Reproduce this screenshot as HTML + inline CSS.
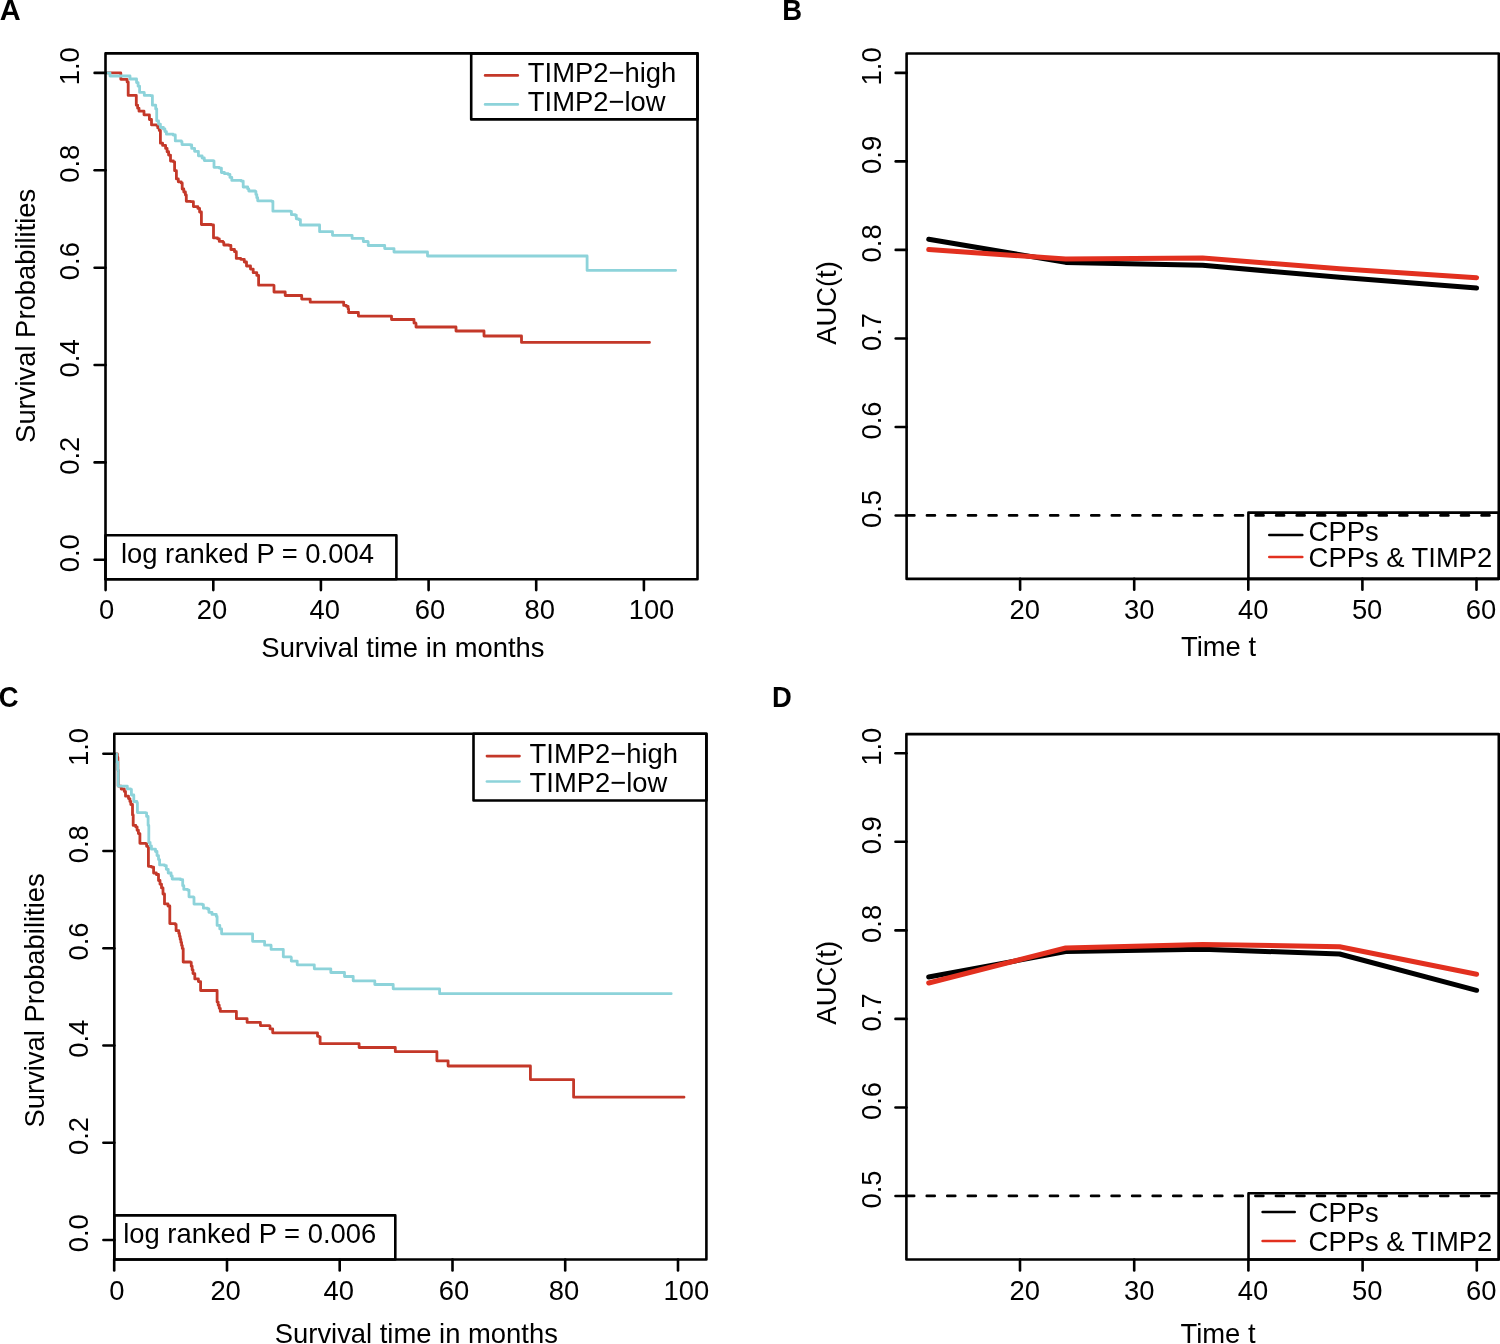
<!DOCTYPE html>
<html><head><meta charset="utf-8"><title>Figure</title>
<style>
html,body{margin:0;padding:0;background:#fff;}
body{width:1500px;height:1344px;overflow:hidden;}
svg{display:block;will-change:transform;}
text{font-family:"Liberation Sans",sans-serif;}
</style></head><body>
<svg width="1500" height="1344" viewBox="0 0 1500 1344" font-family="Liberation Sans, sans-serif" font-size="27.4" fill="#000">
<rect x="0" y="0" width="1500" height="1344" fill="#fff"/>
<path d="M105.6 72.9L120.8 72.9L120.8 79.3L127.1 79.3L127.1 82L128.2 82L128.2 95.4L135.7 95.4L136.3 95.4L136.3 105.2L137.65 105.2L137.65 108.2L139 108.2L139 111.2L144 111.2L144 114.8L148.5 114.8L149.4 114.8L149.4 119.5L151.5 119.5L151.5 124.9L156.3 124.9L156.3 125.3L157.8 125.3L157.8 127.9L159.3 127.9L159.3 130.5L160.4 130.5L160.4 143.2L162.6 143.2L162.6 145.4L165.6 145.4L165.6 148.4L167.1 148.4L167.1 151.75L168.6 151.75L168.6 155.1L170.5 155.1L170.5 161L173.4 161L173.4 161.8L174.6 161.8L174.6 170.7L176.4 170.7L176.4 178.9L178.3 178.9L178.3 181.8L181.2 181.8L181.2 183L182.2 183L182.2 189L183.8 189L183.8 192L185.4 192L185.4 195L186.3 195L186.3 201.3L190.7 201.3L190.7 201.7L193.4 201.7L193.4 206.6L197.9 206.6L197.9 208.4L199.6 208.4L199.6 212L201.4 212L201.4 224.5L211.3 224.5L211.3 224.9L213.5 224.9L213.5 237.9L217.5 237.9L217.5 238.8L219.3 238.8L219.3 241.4L222.9 241.4L222.9 242.3L223.8 242.3L223.8 245L228.7 245L228.7 245.4L230.9 245.4L230.9 249.5L234.5 249.5L234.5 251.7L236.3 251.7L236.3 258.4L240.7 258.4L240.7 259.3L244.3 259.3L244.3 262L246.5 262L246.5 266L250.5 266L250.5 269.1L253.2 269.1L253.2 272.7L256.8 272.7L256.8 275.4L258.6 275.4L258.6 285.2L273.3 285.2L273.3 285.5L274 285.5L274 292L284.7 292L285.2 292L285.2 295.5L301.3 295.5L301.7 295.5L301.7 299.1L309.7 299.1L310.2 299.1L310.2 302.2L342.8 302.2L343.7 302.2L343.7 305.4L346.3 305.4L346.3 306.3L348.1 306.3L348.1 309L348.6 309L348.6 312.5L357.9 312.5L358.4 312.5L358.4 316.1L391 316.1L391.5 316.1L391.5 319.5L413 319.5L414 319.5L414 323L415.5 323L415.5 323.5L416 323.5L416 327L455.5 327L456 327L456 331L483.5 331L484 331L484 336L521 336L521.5 336L521.5 342.4L649.5 342.4" fill="none" stroke="#c43829" stroke-width="2.8" stroke-linejoin="round" stroke-linecap="round"/>
<path d="M105.6 72.9L109.5 72.9L110 72.9L110 76L129.8 76L130 76L130 79L135 79L136.55 79L136.55 82.6L138.1 82.6L138.1 86.2L139.6 86.2L139.6 92.4L144 92.4L144 92.7L144.3 92.7L144.3 95.4L150.6 95.4L150.6 95.7L152.4 95.7L152.4 105.2L155.7 105.2L155.7 109L156.7 109L156.7 120.8L158.55 120.8L158.55 124.15L160.4 124.15L160.4 127.5L163.4 127.5L163.4 129L164.9 129L164.9 131.6L166.4 131.6L166.4 134.2L173.1 134.2L173.1 135L175.3 135L175.3 140.9L181.3 140.9L181.3 141.7L182 141.7L182 144.6L190.2 144.6L190.2 145L191.7 145L191.7 148.4L194.6 148.4L194.6 151.3L198.4 151.3L198.4 155.8L202.1 155.8L202.1 158L204.3 158L204.3 160.6L213.2 160.6L213.2 161L214 161L214 167.3L219.2 167.3L219.2 168.1L221.4 168.1L221.4 172.5L224.4 172.5L224.4 173.7L228.1 173.7L228.1 174.4L229.95 174.4L229.95 177.4L231.8 177.4L231.8 180.4L241.2 180.4L241.2 181.1L243.2 181.1L243.2 187L247.7 187L247.7 188.9L248.8 188.9L248.8 191L255 191L255 191.4L255.9 191.4L255.9 194.53L256.8 194.53L256.8 197.67L257.7 197.67L257.7 200.8L271.5 200.8L271.5 201.3L272.9 201.3L272.9 211.2L290.5 211.2L290.5 211.5L291.4 211.5L291.4 214.7L295 214.7L295 215.2L296.3 215.2L296.3 218.8L298.6 218.8L298.6 219.6L300.4 219.6L300.4 225L318.7 225L319.6 225L319.6 231.7L332.1 231.7L332.5 231.7L332.5 235.3L351.7 235.3L352.1 235.3L352.1 238.4L362.4 238.4L363.3 238.4L363.3 241.5L367.8 241.5L367.8 242L368.2 242L368.2 245.5L384.3 245.5L384.7 245.5L384.7 248.6L393.5 248.6L394 248.6L394 252L427 252L427.5 252L427.5 256L587.1 256L587.1 270.4L675.6 270.4" fill="none" stroke="#8dd3da" stroke-width="2.8" stroke-linejoin="round" stroke-linecap="round"/>
<rect x="105.5" y="53.4" width="592" height="525.8" fill="none" stroke="#000" stroke-width="2.6" stroke-linejoin="round"/>
<line x1="94.6" y1="559.8" x2="105.5" y2="559.8" stroke="#000" stroke-width="2.6" stroke-linecap="round"/>
<text transform="translate(79.4 553.2) rotate(-90) scale(1 1.03)" text-anchor="middle">0.0</text>
<line x1="94.6" y1="462.4" x2="105.5" y2="462.4" stroke="#000" stroke-width="2.6" stroke-linecap="round"/>
<text transform="translate(79.4 455.8) rotate(-90) scale(1 1.03)" text-anchor="middle">0.2</text>
<line x1="94.6" y1="365" x2="105.5" y2="365" stroke="#000" stroke-width="2.6" stroke-linecap="round"/>
<text transform="translate(79.4 358.4) rotate(-90) scale(1 1.03)" text-anchor="middle">0.4</text>
<line x1="94.6" y1="267.7" x2="105.5" y2="267.7" stroke="#000" stroke-width="2.6" stroke-linecap="round"/>
<text transform="translate(79.4 261.1) rotate(-90) scale(1 1.03)" text-anchor="middle">0.6</text>
<line x1="94.6" y1="170.3" x2="105.5" y2="170.3" stroke="#000" stroke-width="2.6" stroke-linecap="round"/>
<text transform="translate(79.4 163.7) rotate(-90) scale(1 1.03)" text-anchor="middle">0.8</text>
<line x1="94.6" y1="72.9" x2="105.5" y2="72.9" stroke="#000" stroke-width="2.6" stroke-linecap="round"/>
<text transform="translate(79.4 66.3) rotate(-90) scale(1 1.03)" text-anchor="middle">1.0</text>
<line x1="105.6" y1="579.2" x2="105.6" y2="590.1" stroke="#000" stroke-width="2.6" stroke-linecap="round"/>
<text transform="translate(106.65 619.2) scale(1 1.03)" text-anchor="middle">0</text>
<line x1="213.3" y1="579.2" x2="213.3" y2="590.1" stroke="#000" stroke-width="2.6" stroke-linecap="round"/>
<text transform="translate(212.05 619.2) scale(1 1.03)" text-anchor="middle">20</text>
<line x1="320.9" y1="579.2" x2="320.9" y2="590.1" stroke="#000" stroke-width="2.6" stroke-linecap="round"/>
<text transform="translate(324.8 619.2) scale(1 1.03)" text-anchor="middle">40</text>
<line x1="428.6" y1="579.2" x2="428.6" y2="590.1" stroke="#000" stroke-width="2.6" stroke-linecap="round"/>
<text transform="translate(429.95 619.2) scale(1 1.03)" text-anchor="middle">60</text>
<line x1="536.2" y1="579.2" x2="536.2" y2="590.1" stroke="#000" stroke-width="2.6" stroke-linecap="round"/>
<text transform="translate(539.75 619.2) scale(1 1.03)" text-anchor="middle">80</text>
<line x1="643.9" y1="579.2" x2="643.9" y2="590.1" stroke="#000" stroke-width="2.6" stroke-linecap="round"/>
<text transform="translate(651.5 619.2) scale(1 1.03)" text-anchor="middle">100</text>
<text transform="translate(402.9 656.9) scale(1 1.03)" text-anchor="middle">Survival time in months</text>
<text transform="translate(35.3 315.8) rotate(-90) scale(1 1.03)" text-anchor="middle">Survival Probabilities</text>
<rect x="471.2" y="53.4" width="226.3" height="66" fill="none" stroke="#000" stroke-width="2.6" stroke-linejoin="round"/>
<line x1="485.1" y1="75.4" x2="517.8" y2="75.4" stroke="#c43829" stroke-width="2.6" stroke-linecap="round"/>
<line x1="485.1" y1="104.4" x2="517.8" y2="104.4" stroke="#8dd3da" stroke-width="2.6" stroke-linecap="round"/>
<text transform="translate(527.8 81.9) scale(1 1.03)" text-anchor="start">TIMP2−high</text>
<text transform="translate(527.8 110.9) scale(1 1.03)" text-anchor="start">TIMP2−low</text>
<rect x="105.5" y="535.3" width="290.9" height="43.9" fill="none" stroke="#000" stroke-width="2.6" stroke-linejoin="round"/>
<text transform="translate(120.9 563.2) scale(1 1.03)" text-anchor="start">log ranked P = 0.004</text>
<text transform="translate(-0.3 19.7) scale(1 1)" text-anchor="start" font-weight="bold" font-size="29">A</text>
<path d="M114.3 753.8L116.8 753.8L117.3 753.8L117.3 757.5L117.9 757.5L117.9 770L118.2 770L118.2 786.1L121.2 786.1L121.2 789L121.8 789L124.3 789L124.3 791.4L125.5 791.4L125.5 796.2L128.5 796.2L128.5 798.6L129.9 798.6L129.9 801.5L130.8 801.5L130.8 804.5L132.5 804.5L132.5 815L133.2 815L133.2 825.4L135.8 825.4L135.8 826.9L137.1 826.9L137.1 830.25L138.4 830.25L138.4 833.6L139.9 833.6L139.9 843.3L145.5 843.3L145.5 843.6L146.6 843.6L146.6 846.3L148.4 846.3L148.4 866.3L151.4 866.3L151.4 867.1L153.6 867.1L153.6 873L156.3 873L156.3 874.5L158.5 874.5L158.5 880.5L160 880.5L160 884.2L161.5 884.2L161.5 887.9L163 887.9L163 894L164.5 894L164.5 903.9L168 903.9L168 906L169.8 906L169.8 923.6L175.2 923.6L175.2 924.5L176.1 924.5L176.1 930.7L178.8 930.7L178.8 933.4L179.5 933.4L179.5 936.44L180.2 936.44L180.2 939.48L180.9 939.48L180.9 942.52L181.6 942.52L181.6 945.56L182.3 945.56L182.3 948.6L183.2 948.6L183.2 962L190.4 962L190.4 962.4L191.27 962.4L191.27 966.13L192.13 966.13L192.13 969.87L193 969.87L193 973.6L194.8 973.6L194.8 978.9L198.4 978.9L198.4 981.6L200.6 981.6L200.6 984.3L200.6 990.5L214.9 990.5L217.1 990.5L217.1 1002.1L218.17 1002.1L218.17 1005.2L219.23 1005.2L219.23 1008.3L220.3 1008.3L220.3 1011.4L236.4 1011.4L236.4 1018.7L247.1 1018.7L247.1 1022.4L260.4 1022.4L260.4 1025.6L269.5 1025.6L269.5 1026.1L270 1026.1L270 1028.8L272.7 1028.8L272.7 1029.3L272.7 1032.8L316.9 1032.8L317.5 1032.8L317.5 1036.3L319.1 1036.3L319.1 1036.8L320.1 1036.8L320.1 1043.7L359.1 1043.7L359.1 1047.5L395.3 1047.5L395.3 1051.7L436.9 1051.7L436.9 1060.8L448.1 1060.8L448.1 1066L530.4 1066L530.4 1079.6L573.6 1079.6L573.6 1097.2L684 1097.2" fill="none" stroke="#c43829" stroke-width="2.8" stroke-linejoin="round" stroke-linecap="round"/>
<path d="M114.3 753.8L115.2 753.8L116.6 753.8L116.6 762L117.8 762L117.8 770L118.2 770L118.2 786.1L126.1 786.1L127.3 786.1L127.3 788.8L130.5 788.8L130.5 789.3L131.4 789.3L131.4 795L133.8 795L133.8 801.5L136.8 801.5L136.8 802.7L137.4 802.7L137.4 812.6L145.7 812.6L145.7 812.9L146.6 812.9L146.6 816.4L148.1 816.4L148.1 825.4L148.8 825.4L148.8 842.5L150.1 842.5L150.1 845.85L151.4 845.85L151.4 849.2L155.5 849.2L155.5 851.5L157 851.5L157 855.55L158.5 855.55L158.5 859.6L159.6 859.6L159.6 864.9L164.4 864.9L164.4 865.6L166.3 865.6L166.3 869.3L168.2 869.3L168.2 873L171.1 873L171.1 876L172.2 876L172.2 879L180.4 879L180.4 879.7L182.7 879.7L182.7 885.7L183.8 885.7L183.8 889.4L187.5 889.4L187.5 890.1L189 890.1L189 896.8L193.3 896.8L193.3 897.5L194 897.5L194 904.1L202.2 904.1L202.2 904.7L203.4 904.7L203.4 908.2L207.5 908.2L207.5 909L208.9 909L208.9 912.3L212 912.3L212 914.4L216.3 914.4L216.3 916.4L217.1 916.4L217.1 925.4L219.8 925.4L219.8 928.9L221.6 928.9L221.6 933.8L252.6 933.8L252.6 941.3L264 941.3L264.6 941.3L264.6 945.2L271 945.2L271 945.4L271.1 945.4L271.1 949.4L283.3 949.4L283.3 956.8L290.8 956.8L290.8 957.3L291.3 957.3L291.3 961.1L297.2 961.1L297.2 961.6L297.2 964.8L314.3 964.8L314.3 968.8L330.8 968.8L330.8 969.1L330.8 972.5L344.5 972.5L344.5 972.8L344.5 976.5L353.2 976.5L353.2 977.1L353.2 980.8L374.8 980.8L374.8 984.5L393.2 984.5L393.2 988.8L439.6 988.8L439.6 993.7L671.2 993.7" fill="none" stroke="#8dd3da" stroke-width="2.8" stroke-linejoin="round" stroke-linecap="round"/>
<rect x="114.3" y="733.7" width="592.1" height="525.8" fill="none" stroke="#000" stroke-width="2.6" stroke-linejoin="round"/>
<line x1="103.4" y1="1240" x2="114.3" y2="1240" stroke="#000" stroke-width="2.6" stroke-linecap="round"/>
<text transform="translate(88.1 1233.2) rotate(-90) scale(1 1.03)" text-anchor="middle">0.0</text>
<line x1="103.4" y1="1142.8" x2="114.3" y2="1142.8" stroke="#000" stroke-width="2.6" stroke-linecap="round"/>
<text transform="translate(88.1 1136) rotate(-90) scale(1 1.03)" text-anchor="middle">0.2</text>
<line x1="103.4" y1="1045.5" x2="114.3" y2="1045.5" stroke="#000" stroke-width="2.6" stroke-linecap="round"/>
<text transform="translate(88.1 1038.7) rotate(-90) scale(1 1.03)" text-anchor="middle">0.4</text>
<line x1="103.4" y1="948.3" x2="114.3" y2="948.3" stroke="#000" stroke-width="2.6" stroke-linecap="round"/>
<text transform="translate(88.1 941.5) rotate(-90) scale(1 1.03)" text-anchor="middle">0.6</text>
<line x1="103.4" y1="851" x2="114.3" y2="851" stroke="#000" stroke-width="2.6" stroke-linecap="round"/>
<text transform="translate(88.1 844.2) rotate(-90) scale(1 1.03)" text-anchor="middle">0.8</text>
<line x1="103.4" y1="753.8" x2="114.3" y2="753.8" stroke="#000" stroke-width="2.6" stroke-linecap="round"/>
<text transform="translate(88.1 747) rotate(-90) scale(1 1.03)" text-anchor="middle">1.0</text>
<line x1="114.2" y1="1259.5" x2="114.2" y2="1270.4" stroke="#000" stroke-width="2.6" stroke-linecap="round"/>
<text transform="translate(116.9 1299.5) scale(1 1.03)" text-anchor="middle">0</text>
<line x1="227" y1="1259.5" x2="227" y2="1270.4" stroke="#000" stroke-width="2.6" stroke-linecap="round"/>
<text transform="translate(225.6 1299.5) scale(1 1.03)" text-anchor="middle">20</text>
<line x1="339.7" y1="1259.5" x2="339.7" y2="1270.4" stroke="#000" stroke-width="2.6" stroke-linecap="round"/>
<text transform="translate(338.7 1299.5) scale(1 1.03)" text-anchor="middle">40</text>
<line x1="452.5" y1="1259.5" x2="452.5" y2="1270.4" stroke="#000" stroke-width="2.6" stroke-linecap="round"/>
<text transform="translate(454 1299.5) scale(1 1.03)" text-anchor="middle">60</text>
<line x1="565.2" y1="1259.5" x2="565.2" y2="1270.4" stroke="#000" stroke-width="2.6" stroke-linecap="round"/>
<text transform="translate(564 1299.5) scale(1 1.03)" text-anchor="middle">80</text>
<line x1="678" y1="1259.5" x2="678" y2="1270.4" stroke="#000" stroke-width="2.6" stroke-linecap="round"/>
<text transform="translate(686.3 1299.5) scale(1 1.03)" text-anchor="middle">100</text>
<text transform="translate(416.3 1343) scale(1 1.03)" text-anchor="middle">Survival time in months</text>
<text transform="translate(43.75 1000.4) rotate(-90) scale(1 1.03)" text-anchor="middle">Survival Probabilities</text>
<rect x="473.5" y="733.7" width="232.9" height="66.8" fill="none" stroke="#000" stroke-width="2.6" stroke-linejoin="round"/>
<line x1="486.9" y1="756.1" x2="519.5" y2="756.1" stroke="#c43829" stroke-width="2.6" stroke-linecap="round"/>
<line x1="486.9" y1="781.5" x2="519.5" y2="781.5" stroke="#8dd3da" stroke-width="2.6" stroke-linecap="round"/>
<text transform="translate(529.6 762.6) scale(1 1.03)" text-anchor="start">TIMP2−high</text>
<text transform="translate(529.6 791.6) scale(1 1.03)" text-anchor="start">TIMP2−low</text>
<rect x="114.3" y="1215.4" width="281" height="44.1" fill="none" stroke="#000" stroke-width="2.6" stroke-linejoin="round"/>
<text transform="translate(123.2 1243.4) scale(1 1.03)" text-anchor="start">log ranked P = 0.006</text>
<text transform="translate(-1.3 706.7) scale(1 1.05)" text-anchor="start" font-weight="bold">C</text>
<line x1="906.4" y1="515.4" x2="1498.8" y2="515.4" stroke="#000" stroke-width="2.6" stroke-dasharray="8 12.54" stroke-linecap="round"/>
<rect x="906.6" y="53.45" width="592.2" height="525.45" fill="none" stroke="#000" stroke-width="2.6" stroke-linejoin="round"/>
<path d="M928.7 239.3L1065.7 262.4L1202.6 265.3L1339.6 277.3L1476.6 288.1" fill="none" stroke="#000" stroke-width="5" stroke-linejoin="round" stroke-linecap="round"/>
<path d="M928.7 249.6L1065.7 259L1202.6 258L1339.6 268.7L1476.6 277.7" fill="none" stroke="#e2301f" stroke-width="5" stroke-linejoin="round" stroke-linecap="round"/>
<line x1="895.7" y1="72.9" x2="906.6" y2="72.9" stroke="#000" stroke-width="2.6" stroke-linecap="round"/>
<text transform="translate(880.8 66.4) rotate(-90) scale(1 1.03)" text-anchor="middle">1.0</text>
<line x1="895.7" y1="161.4" x2="906.6" y2="161.4" stroke="#000" stroke-width="2.6" stroke-linecap="round"/>
<text transform="translate(880.8 154.9) rotate(-90) scale(1 1.03)" text-anchor="middle">0.9</text>
<line x1="895.7" y1="249.9" x2="906.6" y2="249.9" stroke="#000" stroke-width="2.6" stroke-linecap="round"/>
<text transform="translate(880.8 243.4) rotate(-90) scale(1 1.03)" text-anchor="middle">0.8</text>
<line x1="895.7" y1="338.5" x2="906.6" y2="338.5" stroke="#000" stroke-width="2.6" stroke-linecap="round"/>
<text transform="translate(880.8 332) rotate(-90) scale(1 1.03)" text-anchor="middle">0.7</text>
<line x1="895.7" y1="427" x2="906.6" y2="427" stroke="#000" stroke-width="2.6" stroke-linecap="round"/>
<text transform="translate(880.8 420.5) rotate(-90) scale(1 1.03)" text-anchor="middle">0.6</text>
<line x1="895.7" y1="515.5" x2="906.6" y2="515.5" stroke="#000" stroke-width="2.6" stroke-linecap="round"/>
<text transform="translate(880.8 509) rotate(-90) scale(1 1.03)" text-anchor="middle">0.5</text>
<line x1="1020.1" y1="578.9" x2="1020.1" y2="589.8" stroke="#000" stroke-width="2.6" stroke-linecap="round"/>
<text transform="translate(1024.8 619.2) scale(1 1.03)" text-anchor="middle">20</text>
<line x1="1134.2" y1="578.9" x2="1134.2" y2="589.8" stroke="#000" stroke-width="2.6" stroke-linecap="round"/>
<text transform="translate(1139.3 619.2) scale(1 1.03)" text-anchor="middle">30</text>
<line x1="1248.3" y1="578.9" x2="1248.3" y2="589.8" stroke="#000" stroke-width="2.6" stroke-linecap="round"/>
<text transform="translate(1253.3 619.2) scale(1 1.03)" text-anchor="middle">40</text>
<line x1="1362.4" y1="578.9" x2="1362.4" y2="589.8" stroke="#000" stroke-width="2.6" stroke-linecap="round"/>
<text transform="translate(1367.1 619.2) scale(1 1.03)" text-anchor="middle">50</text>
<line x1="1476.5" y1="578.9" x2="1476.5" y2="589.8" stroke="#000" stroke-width="2.6" stroke-linecap="round"/>
<text transform="translate(1480.9 619.2) scale(1 1.03)" text-anchor="middle">60</text>
<text transform="translate(1218.5 656.3) scale(1 1.03)" text-anchor="middle">Time t</text>
<text transform="translate(835.9 303) rotate(-90) scale(1 1.03)" text-anchor="middle">AUC(t)</text>
<rect x="1248.4" y="512.6" width="250.4" height="66.3" fill="none" stroke="#000" stroke-width="2.6" stroke-linejoin="round"/>
<line x1="1269.3" y1="535" x2="1302.3" y2="535" stroke="#000" stroke-width="2.6" stroke-linecap="round"/>
<line x1="1269.3" y1="557" x2="1302.3" y2="557" stroke="#e2301f" stroke-width="2.6" stroke-linecap="round"/>
<text transform="translate(1308.6 541.3) scale(1 1.03)" text-anchor="start">CPPs</text>
<text transform="translate(1308.6 566.8) scale(1 1.03)" text-anchor="start">CPPs &amp; TIMP2</text>
<text transform="translate(782.3 19.7) scale(1 1.05)" text-anchor="start" font-weight="bold">B</text>
<line x1="906.2" y1="1195.9" x2="1498.8" y2="1195.9" stroke="#000" stroke-width="2.6" stroke-dasharray="8 12.54" stroke-linecap="round"/>
<rect x="906.4" y="734.1" width="592.4" height="525.4" fill="none" stroke="#000" stroke-width="2.6" stroke-linejoin="round"/>
<path d="M928.7 977L1065.7 951.6L1202.6 949.2L1339.6 954L1476.6 990.3" fill="none" stroke="#000" stroke-width="5" stroke-linejoin="round" stroke-linecap="round"/>
<path d="M928.7 983L1065.7 948L1202.6 944.4L1339.6 946.8L1476.6 974.3" fill="none" stroke="#e2301f" stroke-width="5" stroke-linejoin="round" stroke-linecap="round"/>
<line x1="895.5" y1="753.3" x2="906.4" y2="753.3" stroke="#000" stroke-width="2.6" stroke-linecap="round"/>
<text transform="translate(881.2 746.8) rotate(-90) scale(1 1.03)" text-anchor="middle">1.0</text>
<line x1="895.5" y1="841.8" x2="906.4" y2="841.8" stroke="#000" stroke-width="2.6" stroke-linecap="round"/>
<text transform="translate(881.2 835.3) rotate(-90) scale(1 1.03)" text-anchor="middle">0.9</text>
<line x1="895.5" y1="930.4" x2="906.4" y2="930.4" stroke="#000" stroke-width="2.6" stroke-linecap="round"/>
<text transform="translate(881.2 923.9) rotate(-90) scale(1 1.03)" text-anchor="middle">0.8</text>
<line x1="895.5" y1="1018.9" x2="906.4" y2="1018.9" stroke="#000" stroke-width="2.6" stroke-linecap="round"/>
<text transform="translate(881.2 1012.4) rotate(-90) scale(1 1.03)" text-anchor="middle">0.7</text>
<line x1="895.5" y1="1107.5" x2="906.4" y2="1107.5" stroke="#000" stroke-width="2.6" stroke-linecap="round"/>
<text transform="translate(881.2 1101) rotate(-90) scale(1 1.03)" text-anchor="middle">0.6</text>
<line x1="895.5" y1="1196" x2="906.4" y2="1196" stroke="#000" stroke-width="2.6" stroke-linecap="round"/>
<text transform="translate(881.2 1189.5) rotate(-90) scale(1 1.03)" text-anchor="middle">0.5</text>
<line x1="1020" y1="1259.5" x2="1020" y2="1270.4" stroke="#000" stroke-width="2.6" stroke-linecap="round"/>
<text transform="translate(1024.7 1299.8) scale(1 1.03)" text-anchor="middle">20</text>
<line x1="1134.2" y1="1259.5" x2="1134.2" y2="1270.4" stroke="#000" stroke-width="2.6" stroke-linecap="round"/>
<text transform="translate(1139.3 1299.8) scale(1 1.03)" text-anchor="middle">30</text>
<line x1="1248.4" y1="1259.5" x2="1248.4" y2="1270.4" stroke="#000" stroke-width="2.6" stroke-linecap="round"/>
<text transform="translate(1252.9 1299.8) scale(1 1.03)" text-anchor="middle">40</text>
<line x1="1362.6" y1="1259.5" x2="1362.6" y2="1270.4" stroke="#000" stroke-width="2.6" stroke-linecap="round"/>
<text transform="translate(1367.3 1299.8) scale(1 1.03)" text-anchor="middle">50</text>
<line x1="1476.8" y1="1259.5" x2="1476.8" y2="1270.4" stroke="#000" stroke-width="2.6" stroke-linecap="round"/>
<text transform="translate(1481.2 1299.8) scale(1 1.03)" text-anchor="middle">60</text>
<text transform="translate(1218 1343.2) scale(1 1.03)" text-anchor="middle">Time t</text>
<text transform="translate(835.8 982.8) rotate(-90) scale(1 1.03)" text-anchor="middle">AUC(t)</text>
<rect x="1248.5" y="1193.2" width="250.3" height="66.3" fill="none" stroke="#000" stroke-width="2.6" stroke-linejoin="round"/>
<line x1="1262.6" y1="1212" x2="1294.7" y2="1212" stroke="#000" stroke-width="2.6" stroke-linecap="round"/>
<line x1="1262.6" y1="1241" x2="1294.7" y2="1241" stroke="#e2301f" stroke-width="2.6" stroke-linecap="round"/>
<text transform="translate(1308.6 1221.8) scale(1 1.03)" text-anchor="start">CPPs</text>
<text transform="translate(1308.6 1250.6) scale(1 1.03)" text-anchor="start">CPPs &amp; TIMP2</text>
<text transform="translate(772 706.7) scale(1 1.05)" text-anchor="start" font-weight="bold">D</text>
</svg>
</body></html>
